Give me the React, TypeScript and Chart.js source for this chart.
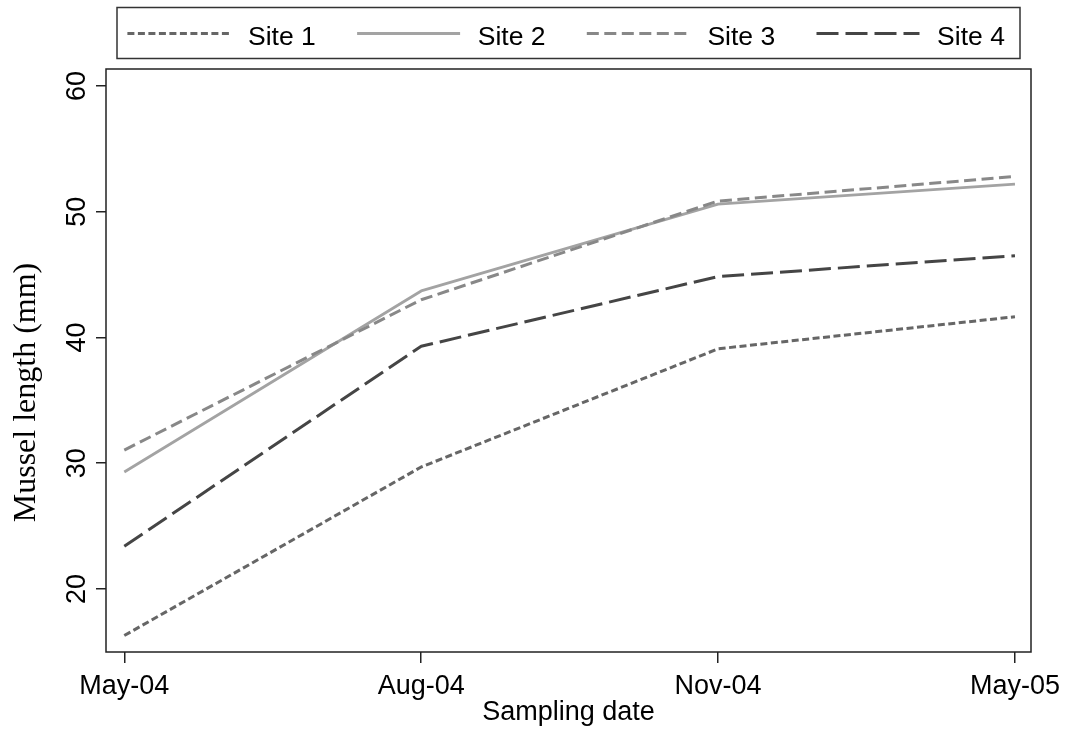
import React, { useEffect, useRef } from "react";
import { Chart, registerables } from "chart.js";

Chart.register(...registerables);

// ---- data ----
const dateLabels = ["May-04", "Aug-04", "Nov-04", "May-05"];
const seriesNames = ["Site 1", "Site 2", "Site 3", "Site 4"];
const site1 = [16.3, 29.7, 39.1, 41.65];
const site2 = [29.3, 43.7, 50.6, 52.2];
const site3 = [31.05, 43.0, 50.85, 52.8];
const site4 = [23.4, 39.3, 44.85, 46.5];
const yTickValues = [20, 30, 40, 50, 60];
const xTitle = "Sampling date";
const yTitle = "Mussel length (mm)";

const SANS = '"Liberation Sans", Arial, Helvetica, sans-serif';
const SERIF = '"Liberation Serif", "Times New Roman", serif';

const seriesValues = [site1, site2, site3, site4];
const seriesStyles = [
  { color: "#666666", dash: [7, 3.5], width: 3 },
  { color: "#a3a3a3", dash: [], width: 2.8 },
  { color: "#888888", dash: [12, 5.5], width: 3 },
  { color: "#454545", dash: [22, 7], width: 3 },
];

const decorPlugin = {
  id: "decor",
  afterDraw(chart: any) {
    const { ctx, chartArea: a, scales } = chart;
    ctx.save();
    // plot frame
    ctx.strokeStyle = "#222";
    ctx.lineWidth = 1.5;
    ctx.setLineDash([]);
    ctx.strokeRect(a.left, a.top, a.right - a.left, a.bottom - a.top);

    // rotated y tick labels
    const ys = scales.y;
    ctx.fillStyle = "#000";
    ctx.font = `27px ${SANS}`;
    ctx.textAlign = "center";
    ctx.textBaseline = "alphabetic";
    ys.ticks.forEach((t: any) => {
      const py = ys.getPixelForValue(t.value);
      ctx.save();
      ctx.translate(a.left - 21, py);
      ctx.rotate(-Math.PI / 2);
      ctx.fillText(String(t.value), 0, 0);
      ctx.restore();
    });

    // y title
    ctx.save();
    ctx.font = `32px ${SERIF}`;
    ctx.translate(a.left - 71, (a.top + a.bottom) / 2 + 32);
    ctx.rotate(-Math.PI / 2);
    ctx.fillText(yTitle, 0, 0);
    ctx.restore();

    // legend
    const cx = (a.left + a.right) / 2;
    const boxW = 903;
    const boxL = cx - boxW / 2;
    ctx.strokeStyle = "#333";
    ctx.lineWidth = 1.5;
    ctx.strokeRect(boxL, 7.5, boxW, 51);
    const step = 229.7;
    ctx.font = `26.5px ${SANS}`;
    ctx.textAlign = "left";
    chart.data.datasets.forEach((ds: any, i: number) => {
      const x0 = boxL + 10.4 + i * step;
      ctx.strokeStyle = ds.borderColor;
      ctx.lineWidth = ds.borderWidth;
      ctx.setLineDash(ds.borderDash || []);
      ctx.beginPath();
      ctx.moveTo(x0, 33.5);
      ctx.lineTo(x0 + 103, 33.5);
      ctx.stroke();
      ctx.setLineDash([]);
      ctx.fillStyle = "#000";
      ctx.fillText(ds.label, x0 + 120.6, 45);
    });
    ctx.restore();
  },
};

export default function App() {
  const ref = useRef<HTMLCanvasElement | null>(null);
  useEffect(() => {
    if (!ref.current) return;
    const chart = new Chart(ref.current, {
      type: "line",
      data: {
        datasets: seriesNames.map((name, i) => ({
          label: name,
          data: seriesValues[i].map((v, j) => ({ x: j, y: v })),
          borderColor: seriesStyles[i].color,
          borderDash: seriesStyles[i].dash,
          borderWidth: seriesStyles[i].width,
          borderCapStyle: "butt",
          borderJoinStyle: "round",
          pointRadius: 0,
          fill: false,
          tension: 0,
          order: seriesNames.length - i,
        })),
      },
      options: {
        responsive: false,
        animation: false,
        layout: { padding: { top: 69, right: 37, left: 0, bottom: 0 } },
        plugins: {
          legend: { display: false },
          tooltip: { enabled: false },
        },
        scales: {
          x: {
            type: "linear",
            min: -0.0616,
            max: 3.054,
            afterBuildTicks: (s: any) => {
              s.ticks = dateLabels.map((_, i) => ({ value: i }));
            },
            afterFit: (s: any) => {
              s.height = 80;
            },
            ticks: {
              callback: (v: any) => dateLabels[v] ?? "",
              color: "#000",
              font: { family: SANS, size: 27 },
              padding: 7,
              maxRotation: 0,
              minRotation: 0,
            },
            grid: {
              display: true,
              drawOnChartArea: false,
              drawTicks: true,
              tickLength: 11,
              color: "#222",
              lineWidth: 1.5,
            },
            border: { display: false },
            title: {
              display: true,
              text: xTitle,
              color: "#000",
              font: { family: SANS, size: 27 },
              padding: { top: 0, bottom: 3 },
            },
          },
          y: {
            type: "linear",
            min: 14.99,
            max: 61.35,
            afterBuildTicks: (s: any) => {
              s.ticks = yTickValues.map((v) => ({ value: v }));
            },
            afterFit: (s: any) => {
              s.width = 106;
            },
            ticks: { display: false },
            grid: {
              display: true,
              drawOnChartArea: false,
              drawTicks: true,
              tickLength: 10,
              color: "#222",
              lineWidth: 1.5,
            },
            border: { display: false },
          },
        },
      },
      plugins: [decorPlugin],
    } as any);
    return () => chart.destroy();
  }, []);
  return (
    <div style={{ position: "absolute", left: 0, top: 0, width: 1068, height: 732, background: "#fff" }}>
      <canvas ref={ref} width={1068} height={732} style={{ display: "block" }} />
    </div>
  );
}
